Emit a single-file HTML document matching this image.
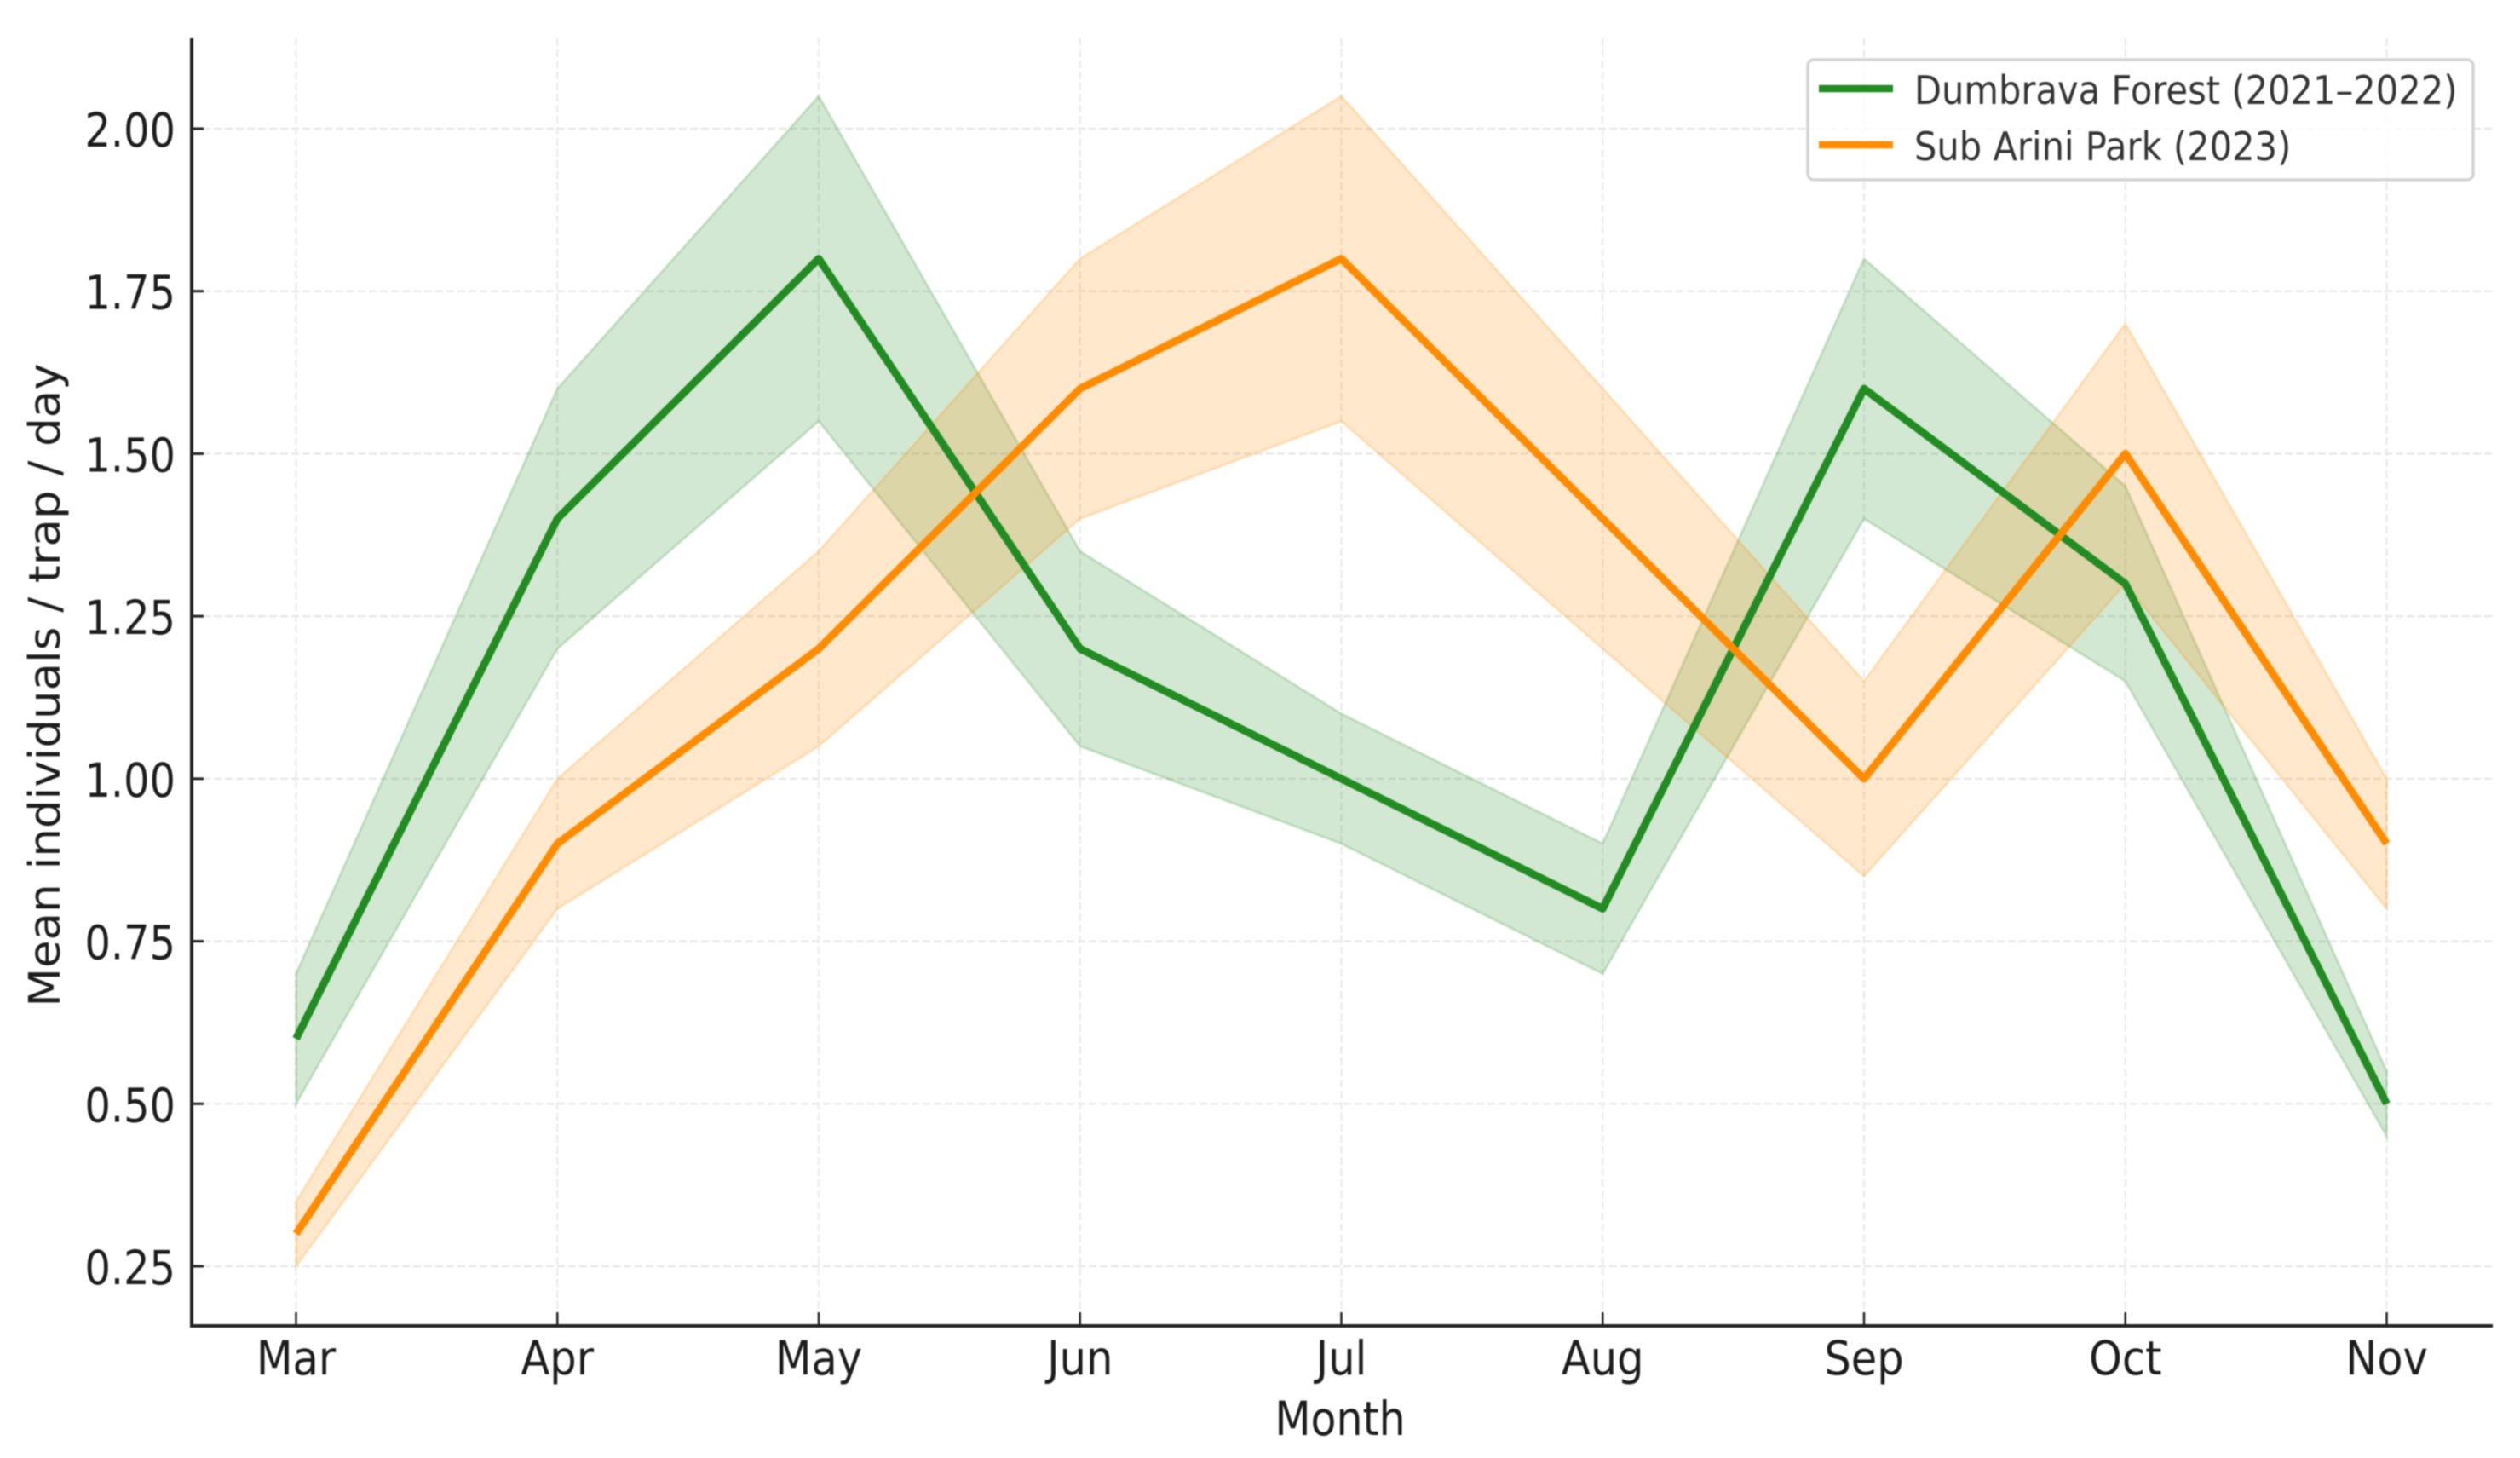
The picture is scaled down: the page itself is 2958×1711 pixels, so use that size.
<!DOCTYPE html>
<html lang="en">
<head>
<meta charset="utf-8">
<title>Mean individuals per trap per day</title>
<style>
html,body{margin:0;padding:0;background:#fff;}
svg{display:block;filter:blur(0.7px);}
text{font-family:"DejaVu Sans","Liberation Sans",sans-serif;}
</style>
</head>
<body>
<svg id="chart" xmlns="http://www.w3.org/2000/svg" width="2958" height="1711" viewBox="0 0 2958 1711">
  <rect x="0" y="0" width="2958" height="1711" fill="#ffffff"/>
  <g id="grid"></g>
  <g id="bands"></g>
  <g id="lines"></g>
  <g id="axes"></g>
  <g id="legend">
    <rect x="2122" y="70" width="781" height="141" rx="7" fill="#ffffff" fill-opacity="0.85" stroke="#d4d4d4" stroke-width="3.5"/>
    <line x1="2135" y1="104" x2="2222" y2="104" stroke="#228B22" stroke-width="8.5"/>
    <text transform="translate(2247,122) scale(0.905,1)" font-size="46" fill="#333333">Dumbrava Forest (2021–2022)</text>
    <line x1="2135" y1="170" x2="2222" y2="170" stroke="#FF8C00" stroke-width="8.5"/>
    <text transform="translate(2247,188) scale(0.905,1)" font-size="46" fill="#333333">Sub Arini Park (2023)</text>
  </g>
  <text transform="translate(1573,1684) scale(0.89,1)" font-size="55" text-anchor="middle" fill="#1c1c1c">Month</text>
  <text transform="translate(70,804) rotate(-90) scale(1,0.95)" font-size="53" text-anchor="middle" fill="#1c1c1c">Mean individuals / trap / day</text>
</svg>
<script>
const months = ["Mar","Apr","May","Jun","Jul","Aug","Sep","Oct","Nov"];
const yTicks = [0.25,0.5,0.75,1.0,1.25,1.5,1.75,2.0];
const dumbravaMean = [0.6,1.4,1.8,1.2,1.0,0.8,1.6,1.3,0.5];
const dumbravaUpper = [0.7,1.6,2.05,1.35,1.1,0.9,1.8,1.45,0.55];
const dumbravaLower = [0.5,1.2,1.55,1.05,0.9,0.7,1.4,1.15,0.45];
const subAriniMean = [0.3,0.9,1.2,1.6,1.8,1.4,1.0,1.5,0.9];
const subAriniUpper = [0.35,1.0,1.35,1.8,2.05,1.6,1.15,1.7,1.0];
const subAriniLower = [0.25,0.8,1.05,1.4,1.55,1.2,0.85,1.3,0.8];

const NS = "http://www.w3.org/2000/svg";
const plotLeft = 225, plotRight = 2926, plotTop = 45, plotBottom = 1556;
function xPos(i){ return 347.5 + i * (2801.5 - 347.5) / (months.length - 1); }
function yPos(v){ return 151 + (2.0 - v) * (1486 - 151) / 1.75; }
function make(tag, attrs, parent){
  const el = document.createElementNS(NS, tag);
  for (const k in attrs) el.setAttribute(k, attrs[k]);
  parent.appendChild(el);
  return el;
}
const gridG = document.getElementById("grid");
const bandsG = document.getElementById("bands");
const linesG = document.getElementById("lines");
const axesG = document.getElementById("axes");

yTicks.forEach(function(t){
  const g = make("line", {x1:plotLeft, x2:plotRight, y1:yPos(t), y2:yPos(t), stroke:"#e8e8e8", "stroke-width":2.5, "stroke-dasharray":"9 4"}, gridG);
  
  
  const tick = make("line", {x1:plotLeft, x2:plotLeft+14, y1:yPos(t), y2:yPos(t), stroke:"#222222", "stroke-width":3}, axesG);
  
  
  const label = make("text", {transform:"translate(206," + (yPos(t)+21) + ") scale(0.87,1)", "font-size":55, "text-anchor":"end", fill:"#1c1c1c"}, axesG);
  label.textContent = t.toFixed(2);
  
  
});
months.forEach(function(m, i){
  const g = make("line", {x1:xPos(i), x2:xPos(i), y1:plotTop, y2:plotBottom, stroke:"#ececec", "stroke-width":2.5, "stroke-dasharray":"9 4"}, gridG);
  
  
  const tick = make("line", {x1:xPos(i), x2:xPos(i), y1:plotBottom, y2:plotBottom-16, stroke:"#222222", "stroke-width":2.5}, axesG);
  
  
  const label = make("text", {transform:"translate(" + xPos(i) + ",1613) scale(0.9,1)", "font-size":55, "text-anchor":"middle", fill:"#1c1c1c"}, axesG);
  label.textContent = m;
  
  
});
function bandPoints(upper, lower){
  const pts = [];
  upper.forEach(function(v, i){ pts.push(xPos(i) + "," + yPos(v)); });
  for (let i = lower.length - 1; i >= 0; i--) pts.push(xPos(i) + "," + yPos(lower[i]));
  return pts.join(" ");
}
function linePoints(vals){
  return vals.map(function(v, i){ return xPos(i) + "," + yPos(v); }).join(" ");
}
const bandD = make("polygon", {points:bandPoints(dumbravaUpper, dumbravaLower), fill:"#228B22", "fill-opacity":0.2, stroke:"#228B22", "stroke-opacity":0.2, "stroke-width":3}, bandsG);


const bandS = make("polygon", {points:bandPoints(subAriniUpper, subAriniLower), fill:"#FF8C00", "fill-opacity":0.2, stroke:"#FF8C00", "stroke-opacity":0.2, "stroke-width":3}, bandsG);


const lineD = make("polyline", {points:linePoints(dumbravaMean), fill:"none", stroke:"#228B22", "stroke-width":9, "stroke-linejoin":"round"}, linesG);


const lineS = make("polyline", {points:linePoints(subAriniMean), fill:"none", stroke:"#FF8C00", "stroke-width":9, "stroke-linejoin":"round"}, linesG);


const ySpine = make("line", {x1:plotLeft, x2:plotLeft, y1:plotTop, y2:plotBottom+2, stroke:"#222222", "stroke-width":4}, axesG);


const xSpine = make("line", {x1:plotLeft-2, x2:plotRight, y1:plotBottom, y2:plotBottom, stroke:"#222222", "stroke-width":4}, axesG);


</script>
</body>
</html>
